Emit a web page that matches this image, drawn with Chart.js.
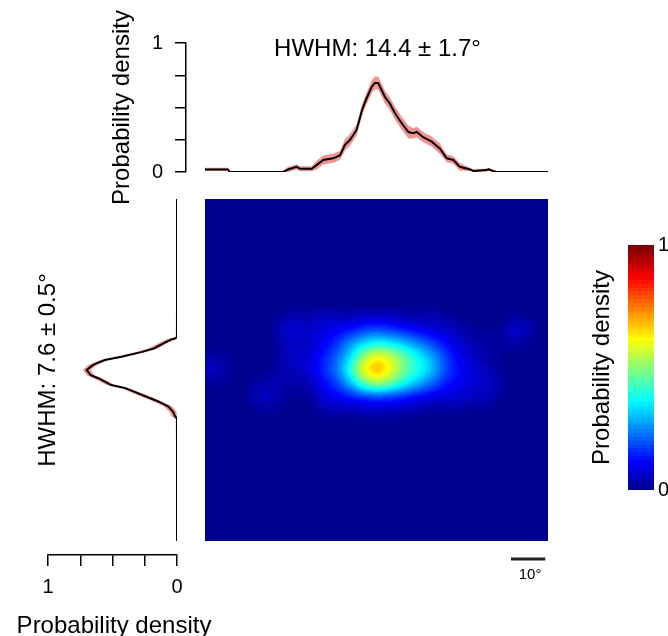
<!DOCTYPE html>
<html>
<head>
<meta charset="utf-8">
<script src="https://cdn.jsdelivr.net/npm/chart.js@4.4.1/dist/chart.umd.min.js"></script>
<style>
  html, body { margin: 0; padding: 0; background: #fff; }
  #wrap { position: relative; width: 668px; height: 636px; overflow: hidden; }
  #wrap canvas { position: absolute; left: 0; top: 0; }
</style>
</head>
<body>
<div id="wrap">
  <canvas id="cHeat" width="668" height="636"></canvas>
  <canvas id="cTop" width="668" height="636"></canvas>
  <canvas id="cLeft" width="668" height="636"></canvas>
  <canvas id="cBar" width="668" height="636"></canvas>
</div>
<script>
// ---------------- DATA ----------------
const topLabel = 'HWHM: 14.4 ± 1.7°';
const leftLabel = 'HWHM: 7.6 ± 0.5°';
const axisTitle = 'Probability density';
const scaleBarLabel = '10°';
const scaleBarDeg = 10;
const densityTicks = [0, 0.25, 0.5, 0.75, 1];
const densityTickLabels = ['0', '', '', '', '1'];
const colorbarTicks = [0, 1];

// horizontal marginal (top)
const topAngle = [-50, -43.3, -42.8, -27.2, -25.8, -23.3, -22.3, -18.9, -17.4, -15.5, -12.6, -10.6, -9.2, -7.7, -5.8, -4.1, -2.9, -1.4, -0.5, 0.5, 2.5, 3.9, 5.4, 7.3, 9.3, 10.7, 11.7, 13.6, 16.1, 18.5, 20.5, 22.4, 24.3, 27.3, 28.2, 32.1, 32.6, 34, 35, 50];
const topMean  = [0.02, 0.02, 0, 0, 0.02, 0.04, 0.025, 0.025, 0.055, 0.093, 0.106, 0.13, 0.21, 0.25, 0.326, 0.49, 0.57, 0.66, 0.69, 0.69, 0.58, 0.53, 0.455, 0.38, 0.31, 0.30, 0.31, 0.27, 0.235, 0.18, 0.106, 0.093, 0.04, 0.02, 0.008, 0.015, 0.02, 0.008, 0, 0];
const topHigh  = [0.032, 0.032, 0.003, 0.003, 0.04, 0.06, 0.045, 0.045, 0.09, 0.128, 0.141, 0.165, 0.255, 0.295, 0.371, 0.535, 0.615, 0.71, 0.74, 0.74, 0.63, 0.58, 0.505, 0.43, 0.36, 0.34, 0.35, 0.31, 0.275, 0.22, 0.136, 0.123, 0.07, 0.032, 0.02, 0.027, 0.032, 0.02, 0.003, 0.003];
const topLow   = [0.008, 0.008, 0, 0, 0, 0.02, 0.005, 0.005, 0.02, 0.058, 0.071, 0.095, 0.165, 0.205, 0.281, 0.445, 0.525, 0.61, 0.64, 0.64, 0.53, 0.48, 0.405, 0.33, 0.26, 0.26, 0.27, 0.23, 0.195, 0.14, 0.076, 0.063, 0.01, 0.008, 0, 0.003, 0.008, 0, 0, 0];

// vertical marginal (left)
const leftAngle = [50, 9.6, 9.2, 9.0, 7.8, 6.3, 5.3, 3.9, 2.9, 1.5, 0, -1.5, -2.4, -4.4, -5.3, -7.3, -9.2, -10.7, -12.2, -13.6, -14.2, -50];
const leftMean  = [0, 0, 0.016, 0.04, 0.106, 0.18, 0.27, 0.43, 0.56, 0.65, 0.70, 0.67, 0.61, 0.51, 0.40, 0.27, 0.145, 0.067, 0.03, 0.015, 0, 0];
const leftHigh  = [0, 0.01, 0.05, 0.08, 0.145, 0.22, 0.31, 0.47, 0.595, 0.685, 0.73, 0.7, 0.645, 0.545, 0.435, 0.305, 0.18, 0.1, 0.06, 0.04, 0.01, 0];
const leftLow   = [0, 0, 0, 0.01, 0.075, 0.15, 0.24, 0.4, 0.53, 0.62, 0.67, 0.64, 0.58, 0.48, 0.37, 0.24, 0.115, 0.037, 0.005, 0, 0, 0];

// 2D density map: column centres (deg), row centres (deg, top to bottom)
const heatX = [-48, -44, -40, -36, -32, -28, -24, -20, -16, -12, -8, -4, 0, 4, 8, 12, 16, 20, 24, 28, 32, 36, 40, 44, 48];
const heatY = [48, 44, 40, 36, 32, 28, 24, 20, 16, 12, 8, 4, 0, -4, -8, -12, -16, -20, -24, -28, -32, -36, -40, -44, -48];
const heatValues = [
  [0,0,0,0,0,0,0,0,0,0,0,0,0,0,0,0,0,0,0,0,0,0,0,0,0],
  [0,0,0,0,0,0,0,0,0,0,0,0,0,0,0,0,0,0,0,0,0,0,0,0,0],
  [0,0,0,0,0,0,0,0,0,0,0,0,0,0,0,0,0,0,0,0,0,0,0,0,0],
  [0,0,0,0,0,0,0,0,0,0,0,0,0,0,0,0,0,0,0,0,0,0,0,0,0],
  [0,0,0,0,0,0,0,0,0,0,0,0,0,0,0,0,0,0,0,0,0,0,0,0,0],
  [0,0,0,0,0,0,0,0,0,0,0,0,0,0,0,0,0,0,0,0,0,0,0,0,0],
  [0,0,0,0,0,0,0,0,0,0,0,0,0,0,0,0,0,0,0,0,0,0,0,0,0],
  [0,0,0,0,0,0,0,0,0,0,0,0,0,0,0,0,0,0,0,0,0,0,0,0,0],
  [0,0,0,0,0,0.02,0.04,0.03,0.05,0.04,0.04,0.05,0.05,0.05,0.04,0.03,0.04,0.02,0.01,0,0,0,0.02,0.01,0],
  [0,0,0,0,0,0.05,0.07,0.06,0.08,0.1,0.12,0.16,0.18,0.16,0.13,0.1,0.08,0.06,0.04,0.02,0.01,0.02,0.06,0.05,0],
  [0,0,0,0,0,0.04,0.06,0.06,0.1,0.15,0.24,0.32,0.37,0.35,0.3,0.24,0.18,0.12,0.07,0.04,0.02,0.02,0.03,0.02,0],
  [0.03,0.02,0,0,0,0.03,0.06,0.07,0.13,0.2,0.32,0.5,0.6,0.56,0.46,0.37,0.28,0.18,0.1,0.06,0.03,0.01,0,0,0],
  [0.05,0.03,0,0,0.01,0.03,0.05,0.07,0.14,0.22,0.38,0.59,0.69,0.6,0.48,0.39,0.31,0.19,0.12,0.07,0.05,0.02,0,0,0],
  [0.02,0.01,0,0.02,0.04,0.03,0.03,0.04,0.1,0.17,0.28,0.43,0.51,0.46,0.37,0.29,0.21,0.14,0.1,0.07,0.06,0.03,0,0,0],
  [0,0,0,0.04,0.05,0.03,0.01,0.02,0.07,0.1,0.13,0.16,0.18,0.17,0.14,0.11,0.09,0.07,0.07,0.05,0.05,0.02,0,0,0],
  [0,0,0,0.01,0.02,0.01,0,0,0.03,0.04,0.04,0.05,0.05,0.05,0.04,0.03,0.02,0.02,0.02,0.01,0.01,0,0,0,0],
  [0,0,0,0,0,0,0,0,0,0,0,0,0,0,0,0,0,0,0,0,0,0,0,0,0],
  [0,0,0,0,0,0,0,0,0,0,0,0,0,0,0,0,0,0,0,0,0,0,0,0,0],
  [0,0,0,0,0,0,0,0,0,0,0,0,0,0,0,0,0,0,0,0,0,0,0,0,0],
  [0,0,0,0,0,0,0,0,0,0,0,0,0,0,0,0,0,0,0,0,0,0,0,0,0],
  [0,0,0,0,0,0,0,0,0,0,0,0,0,0,0,0,0,0,0,0,0,0,0,0,0],
  [0,0,0,0,0,0,0,0,0,0,0,0,0,0,0,0,0,0,0,0,0,0,0,0,0],
  [0,0,0,0,0,0,0,0,0,0,0,0,0,0,0,0,0,0,0,0,0,0,0,0,0],
  [0,0,0,0,0,0,0,0,0,0,0,0,0,0,0,0,0,0,0,0,0,0,0,0,0],
  [0,0,0,0,0,0,0,0,0,0,0,0,0,0,0,0,0,0,0,0,0,0,0,0,0]
];

// ---------------- STYLE / LAYOUT ----------------
const FONT = "'Liberation Sans', Arial, Helvetica, sans-serif";
Chart.defaults.font.family = FONT;
Chart.defaults.color = '#000';
const BAND = '#f39494';
const TITLE_SIZE = 24;
const ANG_MIN = -50, ANG_MAX = 50;
const MAP = { left: 205, right: 548, top: 199, bottom: 541 };
const TOP_AXIS_X = 186;
const TOP_PAD_LEFT = 108;
const TOP_AREA = { top: 43, bottom: 172 };
const LEFT_AREA = { left: 48, right: 177, axisY: 555 };
const CB = { left: 628, right: 654, top: 245, bottom: 490 };
const CB_PAD_LEFT = 588.4;

// MATLAB jet(64)
function jetU(j) { if (j < 1 || j > 47) return 0; if (j <= 16) return j / 16; if (j <= 31) return 1; return (48 - j) / 16; }
function jetIndex(k) { return [jetU(k - 24), jetU(k - 8), jetU(k + 8)].map(c => Math.round(c * 255)); }
function jet(v) { const k = Math.min(64, Math.max(1, Math.floor(v * 64) + 1)); return jetIndex(k); }

const degPerPx = (ANG_MAX - ANG_MIN) / (MAP.right - MAP.left);
const degPerPxY = (ANG_MAX - ANG_MIN) / (MAP.bottom - MAP.top);

const tickCallback = (v) => { const i = densityTicks.indexOf(+(+v).toFixed(2)); return i >= 0 ? densityTickLabels[i] : ''; };
const fixTicks = (vals) => (s) => { s.ticks = vals.map(v => ({ value: v })); };

// ---------------- HEATMAP ----------------
const heatPlugin = {
  id: 'heat',
  beforeDatasetsDraw(chart) {
    const { ctx, scales: { x, y } } = chart;
    const nC = heatX.length, nR = heatY.length;
    const sx = Math.abs(heatX[1] - heatX[0]), sy = Math.abs(heatY[1] - heatY[0]);
    const left = x.getPixelForValue(heatX[0] - sx / 2), right = x.getPixelForValue(heatX[nC - 1] + sx / 2);
    const top = y.getPixelForValue(heatY[0] + sy / 2), bottom = y.getPixelForValue(heatY[nR - 1] - sy / 2);
    const W = Math.round(right - left), H = Math.round(bottom - top);
    const small = document.createElement('canvas'); small.width = nC; small.height = nR;
    const sctx = small.getContext('2d');
    const img = sctx.createImageData(nC, nR);
    for (let r = 0; r < nR; r++) for (let c = 0; c < nC; c++) {
      const i = (r * nC + c) * 4, g = Math.round(heatValues[r][c] * 255);
      img.data[i] = g; img.data[i + 1] = g; img.data[i + 2] = g; img.data[i + 3] = 255;
    }
    sctx.putImageData(img, 0, 0);
    const big = document.createElement('canvas'); big.width = W; big.height = H;
    const bctx = big.getContext('2d', { willReadFrequently: true });
    bctx.imageSmoothingEnabled = true; bctx.imageSmoothingQuality = 'high';
    bctx.drawImage(small, 0, 0, W, H);
    const bd = bctx.getImageData(0, 0, W, H);
    for (let i = 0; i < bd.data.length; i += 4) {
      const [r, g, b] = jet(bd.data[i] / 255);
      bd.data[i] = r; bd.data[i + 1] = g; bd.data[i + 2] = b; bd.data[i + 3] = 255;
    }
    bctx.putImageData(bd, 0, 0);
    ctx.drawImage(big, left, top);
  },
  afterDraw(chart) {
    const { ctx, scales: { x } } = chart;
    const x1 = x.getPixelForValue(49.2), x0 = x.getPixelForValue(49.2 - scaleBarDeg);
    ctx.save();
    ctx.strokeStyle = '#222'; ctx.lineWidth = 3;
    ctx.beginPath(); ctx.moveTo(x0, 559); ctx.lineTo(x1, 559); ctx.stroke();
    ctx.fillStyle = '#000'; ctx.font = '15px ' + FONT; ctx.textAlign = 'center'; ctx.textBaseline = 'alphabetic';
    ctx.fillText(scaleBarLabel, (x0 + x1) / 2 + 2, 579);
    ctx.restore();
  }
};
new Chart(document.getElementById('cHeat'), {
  type: 'scatter',
  data: { datasets: [{ data: [] }] },
  options: {
    responsive: false, animation: false, devicePixelRatio: 1,
    layout: { padding: { left: MAP.left, right: 668 - MAP.right, top: MAP.top, bottom: 636 - MAP.bottom } },
    plugins: { legend: { display: false }, tooltip: { enabled: false } },
    scales: {
      x: { type: 'linear', display: false, min: ANG_MIN, max: ANG_MAX },
      y: { type: 'linear', display: false, min: ANG_MIN, max: ANG_MAX }
    }
  },
  plugins: [heatPlugin]
});

// ---------------- TOP MARGINAL ----------------
const topTitlePlugin = {
  id: 'topTitle',
  afterDraw(chart) {
    const { ctx, scales: { x } } = chart;
    ctx.save(); ctx.fillStyle = '#000'; ctx.font = TITLE_SIZE + 'px ' + FONT;
    ctx.textAlign = 'center'; ctx.textBaseline = 'alphabetic';
    ctx.fillText(topLabel, x.getPixelForValue(0) + 1, 55.5);
    ctx.restore();
  }
};
new Chart(document.getElementById('cTop'), {
  type: 'line',
  data: {
    datasets: [
      { data: topAngle.map((a, i) => ({ x: a, y: topMean[i] })), borderColor: '#000', borderWidth: 2, pointRadius: 0, fill: false },
      { data: topAngle.map((a, i) => ({ x: a, y: topHigh[i] })), borderColor: 'rgba(0,0,0,0)', borderWidth: 0, pointRadius: 0, fill: false, backgroundColor: BAND },
      { data: topAngle.map((a, i) => ({ x: a, y: topLow[i] })), borderColor: 'rgba(0,0,0,0)', borderWidth: 0, pointRadius: 0, fill: 1, backgroundColor: BAND }
    ]
  },
  options: {
    responsive: false, animation: false, devicePixelRatio: 1,
    layout: { padding: { left: TOP_PAD_LEFT, right: 668 - MAP.right, top: TOP_AREA.top, bottom: 636 - TOP_AREA.bottom } },
    plugins: { legend: { display: false }, tooltip: { enabled: false } },
    elements: { line: { tension: 0 } },
    scales: {
      x: { type: 'linear', display: false, min: ANG_MIN - (MAP.left - TOP_AXIS_X) * degPerPx, max: ANG_MAX },
      y: {
        type: 'linear', position: 'left', min: 0, max: 1,
        afterBuildTicks: fixTicks(densityTicks),
        ticks: { padding: 12, font: { size: 20 }, color: '#000', callback: tickCallback, autoSkip: false },
        grid: { display: true, drawOnChartArea: false, drawTicks: true, tickLength: 11, color: '#000', lineWidth: 1.5 },
        border: { display: true, color: '#000', width: 1.5 },
        title: { display: true, text: axisTitle, font: { size: TITLE_SIZE }, color: '#000', padding: { top: 0, bottom: 0 } },
        afterFit: (s) => { s.width = TOP_AXIS_X - TOP_PAD_LEFT; }
      }
    }
  },
  plugins: [topTitlePlugin]
});

// ---------------- LEFT MARGINAL ----------------
const leftTitlePlugin = {
  id: 'leftTitle',
  afterDraw(chart) {
    const { ctx, scales: { x, y } } = chart;
    ctx.save(); ctx.fillStyle = '#000'; ctx.font = TITLE_SIZE + 'px ' + FONT;
    ctx.textAlign = 'center'; ctx.textBaseline = 'alphabetic';
    // x-axis title (drawn here so it is not squeezed to the axis width)
    ctx.fillText(axisTitle, (x.left + x.right) / 2 + 1.5, 633);
    // HWHM label, rotated
    ctx.translate(54.5, y.getPixelForValue(0));
    ctx.rotate(-Math.PI / 2);
    ctx.fillText(leftLabel, 0, 0);
    ctx.restore();
  }
};
new Chart(document.getElementById('cLeft'), {
  type: 'line',
  data: {
    datasets: [
      { data: leftAngle.map((a, i) => ({ x: leftMean[i], y: a })), borderColor: '#000', borderWidth: 2, pointRadius: 0, fill: false },
      { data: leftAngle.map((a, i) => ({ x: leftHigh[i], y: a })), borderColor: 'rgba(0,0,0,0)', borderWidth: 0, pointRadius: 0, fill: false, backgroundColor: BAND },
      { data: leftAngle.map((a, i) => ({ x: leftLow[i], y: a })), borderColor: 'rgba(0,0,0,0)', borderWidth: 0, pointRadius: 0, fill: 1, backgroundColor: BAND }
    ]
  },
  options: {
    indexAxis: 'y',
    responsive: false, animation: false, devicePixelRatio: 1,
    layout: { padding: { left: LEFT_AREA.left, right: 668 - LEFT_AREA.right, top: MAP.top, bottom: 0 } },
    plugins: { legend: { display: false }, tooltip: { enabled: false } },
    elements: { line: { tension: 0 } },
    scales: {
      y: { type: 'linear', display: false, min: ANG_MIN - (LEFT_AREA.axisY - MAP.bottom) * degPerPxY, max: ANG_MAX },
      x: {
        type: 'linear', position: 'bottom', min: 0, max: 1, reverse: true,
        afterBuildTicks: fixTicks(densityTicks),
        ticks: { padding: 9, font: { size: 20 }, color: '#000', callback: tickCallback, autoSkip: false, maxRotation: 0 },
        grid: { display: true, drawOnChartArea: false, drawTicks: true, tickLength: 11, color: '#000', lineWidth: 1.5 },
        border: { display: true, color: '#000', width: 1.5 },
        afterFit: (s) => { s.height = 636 - LEFT_AREA.axisY; }
      }
    }
  },
  plugins: [leftTitlePlugin]
});

// ---------------- COLORBAR ----------------
const cbPlugin = {
  id: 'cb',
  beforeDatasetsDraw(chart) {
    const { ctx, chartArea: a, scales: { y } } = chart;
    for (let k = 1; k <= 64; k++) {
      const y0 = y.getPixelForValue((k - 1) / 64), y1 = y.getPixelForValue(k / 64);
      const [r, g, b] = jetIndex(k);
      ctx.fillStyle = `rgb(${r},${g},${b})`;
      ctx.fillRect(a.left, Math.floor(y1), a.right - a.left, Math.ceil(y0) - Math.floor(y1));
    }
  }
};
new Chart(document.getElementById('cBar'), {
  type: 'scatter',
  data: { datasets: [{ data: [] }] },
  options: {
    responsive: false, animation: false, devicePixelRatio: 1,
    layout: { padding: { left: CB_PAD_LEFT, right: 0, top: CB.top, bottom: 636 - CB.bottom } },
    plugins: { legend: { display: false }, tooltip: { enabled: false } },
    scales: {
      x: { type: 'linear', display: false, min: 0, max: 1 },
      y: {
        type: 'linear', position: 'right', min: 0, max: 1,
        afterBuildTicks: fixTicks(colorbarTicks),
        ticks: { padding: 4, font: { size: 20 }, color: '#000' },
        grid: { display: false, drawTicks: false },
        border: { display: false },
        afterFit: (s) => { s.width = 668 - CB.right; }
      },
      yl: {
        type: 'linear', position: 'left', min: 0, max: 1,
        ticks: { display: false },
        grid: { display: false, drawTicks: false },
        border: { display: false },
        title: { display: true, text: axisTitle, font: { size: TITLE_SIZE }, color: '#000', padding: { top: 0, bottom: 0 } },
        afterFit: (s) => { s.width = CB.left - CB_PAD_LEFT; }
      }
    }
  },
  plugins: [cbPlugin]
});
</script>
</body>
</html>
